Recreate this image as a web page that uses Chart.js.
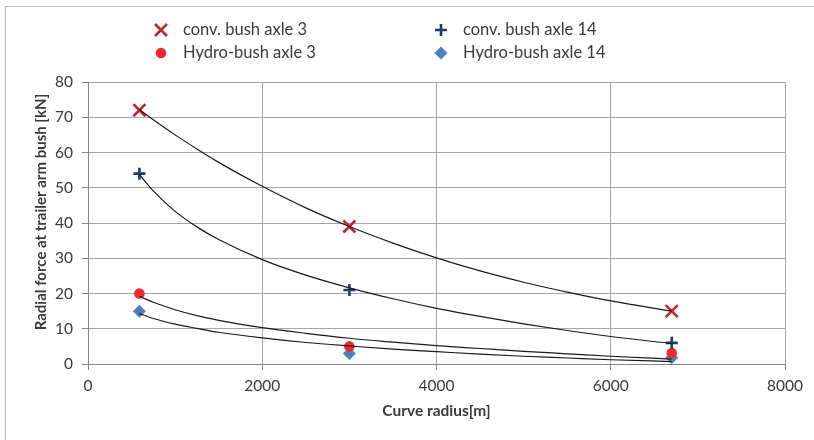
<!DOCTYPE html>
<html>
<head>
<meta charset="utf-8">
<script src="https://cdn.jsdelivr.net/npm/chart.js@4.4.0/dist/chart.umd.min.js"></script>
<style>
html,body{margin:0;padding:0;background:#fff;}
#wrap{position:relative;width:814px;height:440px;}
canvas{display:block;}
</style>
</head>
<body>
<div id="wrap"><canvas id="c" width="814" height="440"></canvas></div>
<script>
// Measured points
const radius = [590, 3000, 6700];
const convAxle3 = [72, 39, 15];
const convAxle14 = [54, 21, 6];
const hydroAxle3 = [20, 5, 3.1];
const hydroAxle14 = [15, 3, 1.8];

// Trend curves
const trendRadius = [590, 750, 1000, 1250, 1500, 2000, 2500, 3000, 3500, 4000, 4500, 5000, 5500, 6000, 6700];
const trendConv3 = [72.2, 69.3, 65.0, 61.0, 57.2, 50.4, 44.3, 39.0, 34.3, 30.1, 26.4, 23.2, 20.4, 17.9, 15.0];
const trendConv14 = [53.8, 49.1, 43.3, 38.9, 35.3, 29.6, 25.2, 21.6, 18.5, 15.8, 13.5, 11.4, 9.5, 7.8, 5.8];
const trendHydro3 = [19.2, 17.5, 15.4, 13.7, 12.4, 10.3, 8.7, 7.3, 6.2, 5.2, 4.4, 3.6, 2.9, 2.2, 1.4];
const trendHydro14 = [14.3, 12.9, 11.3, 10.1, 9.0, 7.4, 6.1, 5.1, 4.2, 3.5, 2.8, 2.2, 1.7, 1.2, 0.7];

const xTicks = [0, 2000, 4000, 6000, 8000];
const yTicks = [0, 10, 20, 30, 40, 50, 60, 70, 80];

const seriesNames = ['conv. bush axle 3', 'conv. bush axle 14', 'Hydro-bush axle 3', 'Hydro-bush axle 14'];
const xTitle = 'Curve radius[m]';
const yTitle = 'Radial force at trailer arm bush [kN]';

const FONT = 'Lato, "Open Sans", sans-serif';
const TEXT = '#3a3a3a';

function pts(xs, ys){ return xs.map((x,i)=>({x:x, y:ys[i]})); }

function trend(ys){
  return {
    data: pts(trendRadius, ys), showLine: true, pointRadius: 0, pointHoverRadius: 0,
    borderColor: '#1a1a1a', borderWidth: 1.2, cubicInterpolationMode: 'monotone', fill: false
  };
}

const markerStyles = [
  {pointStyle:'crossRot', radius:8.5, borderColor:'#C0272D', backgroundColor:'#C0272D', borderWidth:2.6},
  {pointStyle:'cross', radius:6, borderColor:'#1F3B6B', backgroundColor:'#1F3B6B', borderWidth:2.6},
  {pointStyle:'circle', radius:5.3, borderColor:'#EE2B2B', backgroundColor:'#EE2B2B', borderWidth:0},
  {pointStyle:'rectRot', radius:6.5, borderColor:'#4F7FC0', backgroundColor:'#4F7FC0', borderWidth:0}
];
const pointSets = [convAxle3, convAxle14, hydroAxle3, hydroAxle14];

const datasets = [
  trend(trendConv3), trend(trendConv14), trend(trendHydro3), trend(trendHydro14)
];
pointSets.forEach((ys, i) => {
  const m = markerStyles[i];
  datasets.push({
    label: seriesNames[i], data: pts(radius, ys), showLine: false,
    pointStyle: m.pointStyle, pointRadius: m.radius, pointHoverRadius: m.radius,
    pointBorderColor: m.borderColor, pointBackgroundColor: m.backgroundColor,
    pointBorderWidth: m.borderWidth, borderColor: m.borderColor, backgroundColor: m.backgroundColor
  });
});

function drawMarker(ctx, m, x, y){
  ctx.save();
  ctx.strokeStyle = m.borderColor; ctx.fillStyle = m.backgroundColor;
  ctx.lineWidth = m.borderWidth || 1;
  const r = m.radius;
  ctx.beginPath();
  if (m.pointStyle === 'crossRot'){
    const o = r * Math.SQRT1_2;
    ctx.moveTo(x-o,y-o); ctx.lineTo(x+o,y+o); ctx.moveTo(x+o,y-o); ctx.lineTo(x-o,y+o); ctx.stroke();
  } else if (m.pointStyle === 'cross'){
    ctx.moveTo(x-r,y); ctx.lineTo(x+r,y); ctx.moveTo(x,y-r); ctx.lineTo(x,y+r); ctx.stroke();
  } else if (m.pointStyle === 'circle'){
    ctx.arc(x,y,r,0,Math.PI*2); ctx.fill();
  } else {
    ctx.moveTo(x-r,y); ctx.lineTo(x,y-r); ctx.lineTo(x+r,y); ctx.lineTo(x,y+r); ctx.closePath(); ctx.fill();
  }
  ctx.restore();
}

const decor = {
  id: 'decor',
  beforeDraw(chart){
    const ctx = chart.ctx;
    ctx.save();
    ctx.fillStyle = '#fff'; ctx.fillRect(0,0,chart.width,chart.height);
    ctx.strokeStyle = '#bcbcbc'; ctx.lineWidth = 1;
    ctx.beginPath();
    ctx.moveTo(5.5, 440); ctx.lineTo(5.5, 6.5); ctx.lineTo(814, 6.5);
    ctx.stroke();
    ctx.restore();
  },
  afterDraw(chart){
    const ctx = chart.ctx;
    ctx.save();
    // legend
    const pos = [[161,30],[441,30],[161,53],[441,53]];
    ctx.font = '16.5px ' + FONT; ctx.textBaseline = 'middle'; ctx.textAlign = 'left';
    pos.forEach((p,i) => {
      drawMarker(ctx, markerStyles[i], p[0], p[1]);
      ctx.fillStyle = TEXT;
      ctx.fillText(seriesNames[i], p[0]+22, p[1]);
    });
    // axis titles
    ctx.font = 'bold 15.5px ' + FONT; ctx.fillStyle = TEXT; ctx.textAlign = 'center'; ctx.textBaseline = 'middle';
    ctx.fillText(xTitle, (chart.chartArea.left+chart.chartArea.right)/2, 411);
    ctx.font = 'bold 15px ' + FONT;
    ctx.translate(41, 212); ctx.rotate(-Math.PI/2);
    ctx.fillText(yTitle, 0, 0);
    ctx.restore();
  }
};

new Chart(document.getElementById('c'), {
  type: 'scatter',
  data: { datasets: datasets },
  options: {
    responsive: false, animation: false,
    layout: { padding: { left: 0, top: 82, right: 29, bottom: 0 } },
    plugins: { legend: { display: false }, tooltip: { enabled: false } },
    scales: {
      x: {
        type: 'linear', min: 0, max: 8000,
        afterBuildTicks: s => { s.ticks = xTicks.map(v => ({value: v})); },
        afterFit: s => { s.height = 76; },
        grid: { color: '#a6a6a6', lineWidth: 1, tickLength: 6, tickColor: '#868686' },
        border: { color: '#868686', width: 1 },
        ticks: { font: { family: FONT, size: 15.5 }, color: TEXT, padding: 7, maxRotation: 0,
                 callback: v => String(v) }
      },
      y: {
        type: 'linear', min: 0, max: 80,
        afterBuildTicks: s => { s.ticks = yTicks.map(v => ({value: v})); },
        afterFit: s => { s.width = 88; },
        grid: { color: '#a6a6a6', lineWidth: 1, tickLength: 6, tickColor: '#868686' },
        border: { color: '#868686', width: 1 },
        ticks: { font: { family: FONT, size: 15.5 }, color: TEXT, padding: 9,
                 callback: v => String(v) }
      }
    }
  },
  plugins: [decor]
});
</script>
</body>
</html>
